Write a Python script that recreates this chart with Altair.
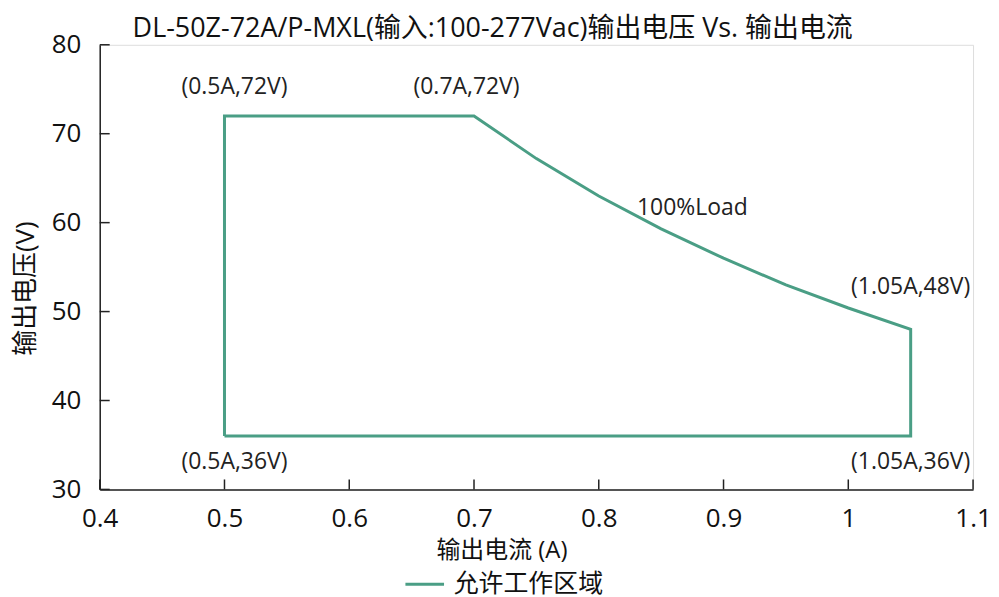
import altair as alt
import pandas as pd

# Operating-area outline (path order)
path_current = [0.5, 0.5, 0.7, 0.75, 0.8, 0.85, 0.9, 0.95, 1.0, 1.05, 1.05, 0.5]
path_voltage = [36, 72, 72, 67.2, 63.0, 59.3, 56.0, 53.0, 50.4, 48.0, 36, 36]
series_name = "允许工作区域"

# Annotation labels (text, x, y in data units)
ann_text = ["(0.5A,72V)", "(0.7A,72V)", "100%Load", "(1.05A,48V)", "(0.5A,36V)", "(1.05A,36V)"]
ann_x = [0.508, 0.694, 0.875, 1.050, 0.508, 1.050]
ann_y = [75.2, 75.2, 61.7, 52.8, 33.1, 33.1]

x_ticks = [0.4, 0.5, 0.6, 0.7, 0.8, 0.9, 1.0, 1.1]
y_ticks = [30, 40, 50, 60, 70, 80]

title_text = "DL-50Z-72A/P-MXL(输入:100-277Vac)输出电压 Vs. 输出电流"
x_title = "输出电流 (A)"
y_title = "输出电压(V)"

GREEN = "#4a9e85"
FONT = "Open Sans, Noto Sans CJK SC"
W, H = 876, 446

line_df = pd.DataFrame({
    "I": path_current,
    "V": path_voltage,
    "order": list(range(len(path_current))),
    "series": [series_name] * len(path_current),
})
ann_df = pd.DataFrame({"t": ann_text, "I": ann_x, "V": ann_y})
xt_df = pd.DataFrame({"I": x_ticks})
yt_df = pd.DataFrame({"V": y_ticks})

xscale = alt.Scale(domain=[0.4, 1.1], nice=False, zero=False)
yscale = alt.Scale(domain=[30, 80], nice=False, zero=False)

line = alt.Chart(line_df).mark_line(strokeWidth=3).encode(
    x=alt.X("I:Q", scale=xscale, axis=alt.Axis(
        values=x_ticks, format="~g", title=x_title, grid=False, ticks=False,
        labelFlush=False, domainColor="#222", domainWidth=1.5,
        labelFont=FONT, labelFontSize=26, labelColor="#111", labelPadding=16,
        titleFont=FONT, titleFontSize=24, titleFontWeight="normal", titleColor="#111",
        titleX=403, titleY=61, titleAnchor="middle", titleBaseline="middle")),
    y=alt.Y("V:Q", scale=yscale, axis=alt.Axis(
        values=y_ticks, title=y_title, grid=False, ticks=False,
        labelFlush=False, domainColor="#222", domainWidth=1.5,
        labelFont=FONT, labelFontSize=26, labelColor="#111", labelPadding=19,
        titleFont=FONT, titleFontSize=26, titleFontWeight="normal", titleColor="#111",
        titleX=-74, titleY=244, titleAngle=-90, titleAlign="center", titleBaseline="middle")),
    order="order:Q",
    color=alt.Color("series:N", scale=alt.Scale(domain=[series_name], range=[GREEN]),
                    legend=alt.Legend(title=None, orient="none", legendX=305, legendY=520,
                                      symbolType="stroke", symbolStrokeWidth=3, symbolSize=1500,
                                      labelFont=FONT, labelFontSize=25, labelColor="#111",
                                      labelOffset=8)),
)

xticks = alt.Chart(xt_df).mark_rule(color="#222", strokeWidth=1.5).encode(
    x=alt.X("I:Q", scale=xscale), y=alt.value(H), y2=alt.value(H - 10))
yticks = alt.Chart(yt_df).mark_rule(color="#222", strokeWidth=1.5).encode(
    y=alt.Y("V:Q", scale=yscale), x=alt.value(0), x2=alt.value(10))

ann = alt.Chart(ann_df).mark_text(font=FONT, fontSize=23, color="#222",
                                  align="center", baseline="middle").encode(
    x=alt.X("I:Q", scale=xscale), y=alt.Y("V:Q", scale=yscale), text="t:N")

chart = alt.layer(xticks, yticks, line, ann).properties(
    width=W, height=H,
    title=alt.TitleParams(title_text, font=FONT, fontSize=27, fontWeight="normal",
                          color="#111", anchor="start", frame="group", dx=33, offset=-11),
    autosize=alt.AutoSizeParams(type="none"),
    padding={"left": 92, "top": 36, "right": 18, "bottom": 107},
).configure_view(stroke=None).configure(background="white")

chart.save("out.html", embed_options={"renderer": "svg", "actions": False})
